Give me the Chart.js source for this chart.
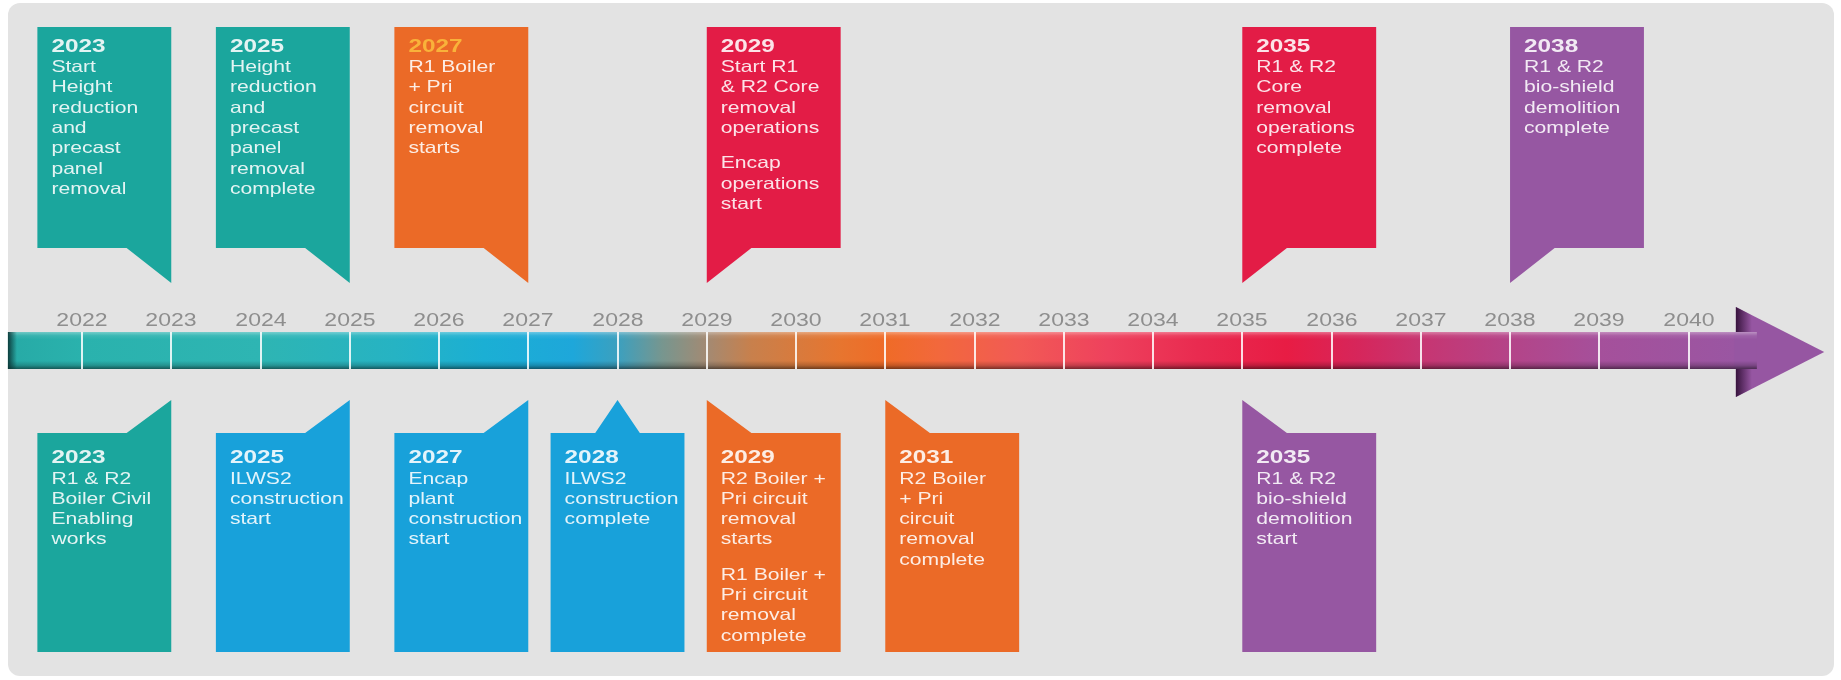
<!DOCTYPE html>
<html>
<head>
<meta charset="utf-8">
<script src="https://cdn.jsdelivr.net/npm/chart.js@4.4.1/dist/chart.umd.min.js"></script>
<style>
  html, body { margin: 0; padding: 0; background: #fff; overflow: hidden; }
  canvas { display: block; }
</style>
</head>
<body>
<canvas id="timeline" width="1841" height="680"></canvas>
<script>
// TIMELINE DATA
const tickYears = [2022, 2023, 2024, 2025, 2026, 2027, 2028, 2029, 2030, 2031, 2032, 2033, 2034, 2035, 2036, 2037, 2038, 2039, 2040];
const tickLabels = ['2022', '2023', '2024', '2025', '2026', '2027', '2028', '2029', '2030', '2031', '2032', '2033', '2034', '2035', '2036', '2037', '2038', '2039', '2040'];

// milestones above the arrow
const topYears = [2023, 2025, 2027, 2029, 2035, 2038];
const topPhases = ['civil', 'civil', 'boiler', 'core', 'core', 'shield'];
const topTexts = [
  ['Start', 'Height', 'reduction', 'and', 'precast', 'panel', 'removal'],
  ['Height', 'reduction', 'and', 'precast', 'panel', 'removal', 'complete'],
  ['R1 Boiler', '+ Pri', 'circuit', 'removal', 'starts'],
  ['Start R1', '& R2 Core', 'removal', 'operations', '', 'Encap', 'operations', 'start'],
  ['R1 & R2', 'Core', 'removal', 'operations', 'complete'],
  ['R1 & R2', 'bio-shield', 'demolition', 'complete']
];

// milestones below the arrow
const bottomYears = [2023, 2025, 2027, 2028, 2029, 2031, 2035];
const bottomPhases = ['civil', 'ilws', 'ilws', 'ilws', 'boiler', 'boiler', 'shield'];
const bottomTexts = [
  ['R1 & R2', 'Boiler Civil', 'Enabling', 'works'],
  ['ILWS2', 'construction', 'start'],
  ['Encap', 'plant', 'construction', 'start'],
  ['ILWS2', 'construction', 'complete'],
  ['R2 Boiler +', 'Pri circuit', 'removal', 'starts', '', 'R1 Boiler +', 'Pri circuit', 'removal', 'complete'],
  ['R2 Boiler', '+ Pri', 'circuit', 'removal', 'complete'],
  ['R1 & R2', 'bio-shield', 'demolition', 'start']
];

// STYLE
const phaseColors = {
  civil: '#1ba69d',
  ilws: '#18a1da',
  boiler: '#eb6a27',
  core: '#e31c46',
  shield: '#9657a2'
};
const topYearColor = { 2027: '#f9b23a' };
const textColor = 'rgba(255,255,255,0.88)';
const axisColor = '#8e8e8e';
const font = '"Liberation Sans", Arial, Helvetica, sans-serif';
const stretch = 1.28; // the source lettering is wide

// colour along the arrow, by year
const bandStops = [
  [2021.2, '#27aaa6'], [2022, '#2ab2ad'], [2024, '#2eb5b3'], [2025.5, '#26b3c3'],
  [2026.5, '#1bafd4'], [2027.5, '#1ea7da'], [2028, '#3ba0bf'], [2028.5, '#77968f'],
  [2029, '#a38a73'], [2029.5, '#c8804c'], [2030.5, '#e7752f'], [2031, '#ef6b27'],
  [2031.6, '#f2683c'], [2032.5, '#f25a55'], [2033.5, '#ee415d'], [2034.5, '#e92b50'],
  [2035.5, '#e81c44'], [2036.3, '#d6265b'], [2037, '#c73571'], [2038, '#b44488'],
  [2039, '#a5509b'], [2040.5, '#9a56a2']
];

// vertical rows in pixels (y scale runs 0..680 top to bottom)
const rows = {
  topBox: 27, topBody: 248, topTip: 283,
  label: 326, bandTop: 332, bandBot: 369, arrowTop: 307, arrowBot: 397,
  botTip: 400, botBody: 433, botEnd: 652
};
const boxSpan = 1.5;   // years
const tailSpan = 0.5;  // years
const bandStart = 2021.17;
const arrowBase = 2040.53;
const arrowTip = 2041.52;

function anchorFor(year) {
  if (year < 2028) return 'end';
  if (year === 2028) return 'center';
  return 'start';
}

function wideText(ctx, str, x, y, f, color, align) {
  ctx.save();
  ctx.translate(x, y);
  ctx.scale(stretch, 1);
  ctx.font = f;
  ctx.fillStyle = color;
  ctx.textAlign = align || 'left';
  ctx.textBaseline = 'alphabetic';
  ctx.fillText(str, 0, 0);
  ctx.restore();
}

function roundRect(ctx, x, y, w, h, r) {
  ctx.beginPath();
  ctx.moveTo(x + r, y);
  ctx.arcTo(x + w, y, x + w, y + h, r);
  ctx.arcTo(x + w, y + h, x, y + h, r);
  ctx.arcTo(x, y + h, x, y, r);
  ctx.arcTo(x, y, x + w, y, r);
  ctx.closePath();
}

const timelinePlugin = {
  id: 'timeline',
  beforeDraw(chart) {
    const ctx = chart.ctx;
    ctx.save();
    ctx.fillStyle = '#ffffff';
    ctx.fillRect(0, 0, chart.width, chart.height);
    roundRect(ctx, 8, 3, 1826, 673, 12);
    ctx.fillStyle = '#e3e3e3';
    ctx.fill();
    ctx.restore();
  },
  afterDatasetsDraw(chart) {
    const ctx = chart.ctx;
    const X = v => chart.scales.x.getPixelForValue(v);
    const Y = v => chart.scales.y.getPixelForValue(v);
    ctx.save();

    // arrow shaft
    const x0 = X(bandStart), x1 = X(arrowBase), xt = X(arrowTip);
    const yT = Y(rows.bandTop), yB = Y(rows.bandBot);
    const aT = Y(rows.arrowTop), aB = Y(rows.arrowBot);

    // arrow head first, dark left edge
    ctx.beginPath();
    ctx.moveTo(x1, aT);
    ctx.lineTo(xt, (aT + aB) / 2);
    ctx.lineTo(x1, aB);
    ctx.closePath();
    ctx.fillStyle = '#9656a2';
    ctx.fill();
    const edge = ctx.createLinearGradient(x1, 0, x1 + 16, 0);
    edge.addColorStop(0, 'rgba(45,12,50,0.9)');
    edge.addColorStop(1, 'rgba(45,12,50,0)');
    ctx.fillStyle = edge;
    ctx.fill();

    const grad = ctx.createLinearGradient(x0, 0, x1, 0);
    bandStops.forEach(([yr, c]) => {
      const t = Math.min(1, Math.max(0, (X(yr) - x0) / (x1 - x0)));
      grad.addColorStop(t, c);
    });
    grad.addColorStop(1, '#9656a2');
    ctx.fillStyle = grad;
    ctx.fillRect(x0, yT, x1 - x0, yB - yT);
    ctx.fillStyle = '#9656a2';
    ctx.fillRect(x1 - 1, yT, 22, yB - yT);

    // shading for a raised look
    const shade = ctx.createLinearGradient(0, yT, 0, yB);
    shade.addColorStop(0, 'rgba(255,255,255,0.35)');
    shade.addColorStop(0.1, 'rgba(255,255,255,0.08)');
    shade.addColorStop(0.2, 'rgba(255,255,255,0)');
    shade.addColorStop(0.78, 'rgba(0,0,0,0)');
    shade.addColorStop(0.9, 'rgba(0,0,0,0.18)');
    shade.addColorStop(1, 'rgba(0,0,0,0.5)');
    ctx.fillStyle = shade;
    ctx.fillRect(x0, yT, x1 - x0 + 21, yB - yT);
    const lEdge = ctx.createLinearGradient(x0, 0, x0 + 9, 0);
    lEdge.addColorStop(0, 'rgba(10,50,50,0.9)');
    lEdge.addColorStop(1, 'rgba(10,50,50,0)');
    ctx.fillStyle = lEdge;
    ctx.fillRect(x0, yT, 9, yB - yT);

    // year separators and labels
    tickYears.forEach((yr, i) => {
      const x = Math.round(X(yr));
      ctx.fillStyle = 'rgba(255,255,255,0.85)';
      ctx.fillRect(x - 1, yT, 2, yB - yT);
      wideText(ctx, tickLabels[i], x / stretch * stretch, Y(rows.label), '18px ' + font, axisColor, 'center');
    });

    // milestone boxes
    const drawBox = (year, phase, lines, above, yearColor) => {
      const anchor = anchorFor(year);
      let L, R;
      if (anchor === 'end') { L = X(year - boxSpan); R = X(year); }
      else if (anchor === 'start') { L = X(year); R = X(year + boxSpan); }
      else { L = X(year - boxSpan / 2); R = X(year + boxSpan / 2); }
      const tw = X(year + tailSpan) - X(year);
      ctx.beginPath();
      if (above) {
        const t = Y(rows.topBox), b = Y(rows.topBody), tip = Y(rows.topTip);
        ctx.moveTo(L, t);
        ctx.lineTo(R, t);
        if (anchor === 'end') {
          ctx.lineTo(R, tip);
          ctx.lineTo(R - tw, b);
          ctx.lineTo(L, b);
        } else {
          ctx.lineTo(R, b);
          ctx.lineTo(L + tw, b);
          ctx.lineTo(L, tip);
        }
      } else {
        const t = Y(rows.botBody), b = Y(rows.botEnd), tip = Y(rows.botTip);
        if (anchor === 'end') {
          ctx.moveTo(L, t);
          ctx.lineTo(R - tw, t);
          ctx.lineTo(R, tip);
          ctx.lineTo(R, b);
          ctx.lineTo(L, b);
        } else if (anchor === 'start') {
          ctx.moveTo(L, tip);
          ctx.lineTo(L + tw, t);
          ctx.lineTo(R, t);
          ctx.lineTo(R, b);
          ctx.lineTo(L, b);
        } else {
          const cx = X(year);
          ctx.moveTo(L, t);
          ctx.lineTo(cx - tw / 2, t);
          ctx.lineTo(cx, tip);
          ctx.lineTo(cx + tw / 2, t);
          ctx.lineTo(R, t);
          ctx.lineTo(R, b);
          ctx.lineTo(L, b);
        }
      }
      ctx.closePath();
      ctx.fillStyle = phaseColors[phase];
      ctx.fill();

      const tx = L + 14;
      let y = above ? Y(rows.topBox) + 24.5 : Y(rows.botBody) + 29.5;
      wideText(ctx, String(year), tx, y, 'bold 19px ' + font, yearColor || textColor);
      y += above ? 20.6 : 21;
      lines.forEach(line => {
        if (line === '') { y += 15; return; }
        wideText(ctx, line, tx, y, '16.5px ' + font, textColor);
        y += 20.3;
      });
    };

    topYears.forEach((yr, i) => drawBox(yr, topPhases[i], topTexts[i], true, topYearColor[yr]));
    bottomYears.forEach((yr, i) => drawBox(yr, bottomPhases[i], bottomTexts[i], false));

    ctx.restore();
  }
};

new Chart(document.getElementById('timeline'), {
  type: 'scatter',
  data: { datasets: [] },
  options: {
    responsive: false,
    animation: false,
    devicePixelRatio: 1,
    layout: { padding: 0 },
    plugins: { legend: { display: false }, tooltip: { enabled: false } },
    scales: {
      x: { type: 'linear', min: 2021.0812, max: 2041.708, display: false },
      y: { type: 'linear', min: 0, max: 680, reverse: true, display: false }
    }
  },
  plugins: [timelinePlugin]
});
</script>
</body>
</html>
